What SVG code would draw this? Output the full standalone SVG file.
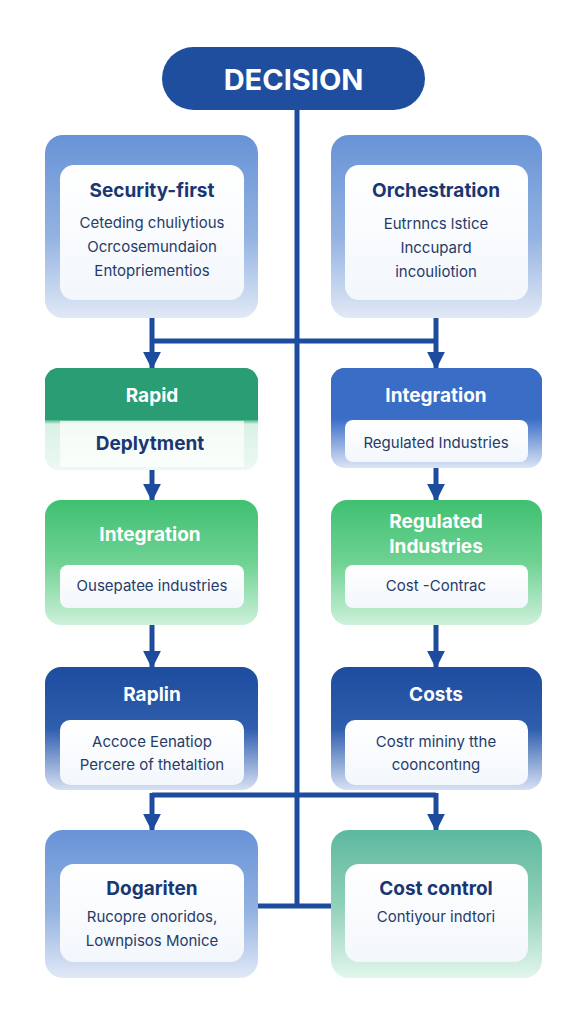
<svg xmlns="http://www.w3.org/2000/svg" width="585" height="1024" viewBox="0 0 585 1024">
<defs>
<linearGradient id="gBlueOuter" x1="0" y1="0" x2="0" y2="1"><stop offset="0" stop-color="#6793d6"/><stop offset="0.55" stop-color="#93b2e2"/><stop offset="1" stop-color="#e1e9f6"/></linearGradient>
<linearGradient id="gBlueHead" x1="0" y1="0" x2="0" y2="1"><stop offset="0" stop-color="#3868c4"/><stop offset="0.5" stop-color="#3a6cc7"/><stop offset="1" stop-color="#dbe5f5"/></linearGradient>
<linearGradient id="gDarkBlue" x1="0" y1="0" x2="0" y2="1"><stop offset="0" stop-color="#1e4c9e"/><stop offset="0.5" stop-color="#2f5eae"/><stop offset="1" stop-color="#d6e1f3"/></linearGradient>
<linearGradient id="gRapid" x1="0" y1="0" x2="0" y2="1"><stop offset="0" stop-color="#279a72"/><stop offset="0.5" stop-color="#30a57b"/><stop offset="0.55" stop-color="#d9f2e4"/><stop offset="1" stop-color="#eef9f2"/></linearGradient>
<linearGradient id="gGreen" x1="0" y1="0" x2="0" y2="1"><stop offset="0" stop-color="#3fc071"/><stop offset="0.5" stop-color="#6fd293"/><stop offset="1" stop-color="#cdf1da"/></linearGradient>
<linearGradient id="gTeal" x1="0" y1="0" x2="0" y2="1"><stop offset="0" stop-color="#5cb99e"/><stop offset="0.5" stop-color="#8fd0b8"/><stop offset="1" stop-color="#e2f6ec"/></linearGradient>
<linearGradient id="gInner" x1="0" y1="0" x2="0" y2="1"><stop offset="0" stop-color="#ffffff"/><stop offset="1" stop-color="#f3f7fc"/></linearGradient>
<marker id="arr" viewBox="0 0 10 10" refX="9" refY="5" markerWidth="3.6" markerHeight="4.4" orient="auto" markerUnits="strokeWidth"><path d="M0,0 L10,5 L0,10 z" fill="#1d4c9e"/></marker>
</defs>
<style>
.conn{stroke:#1d4c9e;stroke-width:5;fill:none}
.title{font-family:Inter,"Open Sans",sans-serif;font-weight:700;font-size:19px;fill:#1a3672;text-anchor:middle}
.wtitle{font-family:Inter,"Open Sans",sans-serif;font-weight:700;font-size:19px;fill:#ffffff;text-anchor:middle}
.body{font-family:Inter,"Open Sans",sans-serif;font-size:15px;fill:#263b6a;text-anchor:middle}
.inner{fill:url(#gInner)}
</style>
<rect width="585" height="1024" fill="#ffffff"/>

<g id="connectors">
<line class="conn" x1="297" y1="108" x2="297" y2="908"/>
<line class="conn" x1="258" y1="906" x2="331" y2="906"/>
<line class="conn" x1="152" y1="341" x2="436" y2="341"/>
<line class="conn" x1="152" y1="318" x2="152" y2="368" marker-end="url(#arr)"/>
<line class="conn" x1="436" y1="318" x2="436" y2="368" marker-end="url(#arr)"/>
<line class="conn" x1="152" y1="470" x2="152" y2="500" marker-end="url(#arr)"/>
<line class="conn" x1="436" y1="468" x2="436" y2="500" marker-end="url(#arr)"/>
<line class="conn" x1="152" y1="625" x2="152" y2="667" marker-end="url(#arr)"/>
<line class="conn" x1="436" y1="625" x2="436" y2="667" marker-end="url(#arr)"/>
<line class="conn" x1="152" y1="795" x2="436" y2="795"/>
<line class="conn" x1="152" y1="793" x2="152" y2="830" marker-end="url(#arr)"/>
<line class="conn" x1="436" y1="793" x2="436" y2="830" marker-end="url(#arr)"/>
</g>

<g id="decision">
<rect x="162" y="47" width="263" height="63" rx="31.5" fill="#1f4e9f"/>
<text x="293.5" y="90" font-family="Inter,'Open Sans',sans-serif" font-weight="700" font-size="29" fill="#ffffff" text-anchor="middle">DECISION</text>
</g>

<g id="security-first">
<rect x="45" y="135" width="213" height="183" rx="18" fill="url(#gBlueOuter)"/>
<rect class="inner" x="60" y="165" width="184" height="135" rx="14"/>
<text class="title" x="152" y="197">Security-first</text>
<text class="body" x="152" y="228">Ceteding chuliytious</text>
<text class="body" x="152" y="252">Ocrcosemundaion</text>
<text class="body" x="152" y="276">Entopriementios</text>
</g>

<g id="orchestration">
<rect x="331" y="135" width="211" height="183" rx="18" fill="url(#gBlueOuter)"/>
<rect class="inner" x="345" y="165" width="183" height="135" rx="14"/>
<text class="title" x="436" y="197">Orchestration</text>
<text class="body" x="436" y="229">Eutrnncs lstice</text>
<text class="body" x="436" y="253">Inccupard</text>
<text class="body" x="436" y="277">incouliotion</text>
</g>

<g id="rapid">
<rect x="45" y="368" width="213" height="102" rx="14" fill="url(#gRapid)"/>
<rect x="60" y="421" width="184" height="46" fill="#ffffff" opacity="0.7"/>
<rect x="45" y="368" width="213" height="52" rx="14" fill="#2a9d74"/>
<rect x="45" y="400" width="213" height="20" fill="#2a9d74"/>
<text class="wtitle" x="152" y="402">Rapid</text>
<text class="title" x="150" y="450">Deplytment</text>
</g>

<g id="integration-right">
<rect x="331" y="368" width="211" height="100" rx="14" fill="url(#gBlueHead)"/>
<rect x="331" y="368" width="211" height="50" rx="14" fill="#3a6dc6"/>
<rect x="331" y="400" width="211" height="18" fill="#3a6dc6"/>
<rect class="inner" x="345" y="420" width="183" height="42" rx="8"/>
<text class="wtitle" x="436" y="402">Integration</text>
<text class="body" x="436" y="448">Regulated Industries</text>
</g>

<g id="integration-left">
<rect x="45" y="500" width="213" height="125" rx="16" fill="url(#gGreen)"/>
<rect class="inner" x="60" y="565" width="184" height="43" rx="8"/>
<text class="wtitle" x="150" y="541">Integration</text>
<text class="body" x="152" y="591">Ousepatee industries</text>
</g>

<g id="regulated-industries">
<rect x="331" y="500" width="211" height="125" rx="16" fill="url(#gGreen)"/>
<rect class="inner" x="345" y="565" width="183" height="43" rx="8"/>
<text class="wtitle" x="436" y="528">Regulated</text>
<text class="wtitle" x="436" y="553">Industries</text>
<text class="body" x="436" y="591">Cost -Contrac</text>
</g>

<g id="raplin">
<rect x="45" y="667" width="213" height="123" rx="16" fill="url(#gDarkBlue)"/>
<rect class="inner" x="60" y="720" width="184" height="65" rx="10"/>
<text class="wtitle" x="152" y="701">Raplin</text>
<text class="body" x="152" y="747">Accoce Eenatiop</text>
<text class="body" x="152" y="770">Percere of thetaltion</text>
</g>

<g id="costs">
<rect x="331" y="667" width="211" height="123" rx="16" fill="url(#gDarkBlue)"/>
<rect class="inner" x="345" y="720" width="183" height="65" rx="10"/>
<text class="wtitle" x="436" y="701">Costs</text>
<text class="body" x="436" y="747">Costr mininy tthe</text>
<text class="body" x="436" y="770">cooncontıng</text>
</g>

<g id="dogariten">
<rect x="45" y="830" width="213" height="148" rx="18" fill="url(#gBlueOuter)"/>
<rect class="inner" x="60" y="864" width="184" height="98" rx="14"/>
<text class="title" x="152" y="895">Dogariten</text>
<text class="body" x="152" y="922">Rucopre onoridos,</text>
<text class="body" x="152" y="946">Lownpisos Monice</text>
</g>

<g id="cost-control">
<rect x="331" y="830" width="211" height="148" rx="18" fill="url(#gTeal)"/>
<rect class="inner" x="345" y="864" width="183" height="98" rx="14"/>
<text class="title" x="436" y="895">Cost control</text>
<text class="body" x="436" y="922">Contiyour indtori</text>
</g>
</svg>
